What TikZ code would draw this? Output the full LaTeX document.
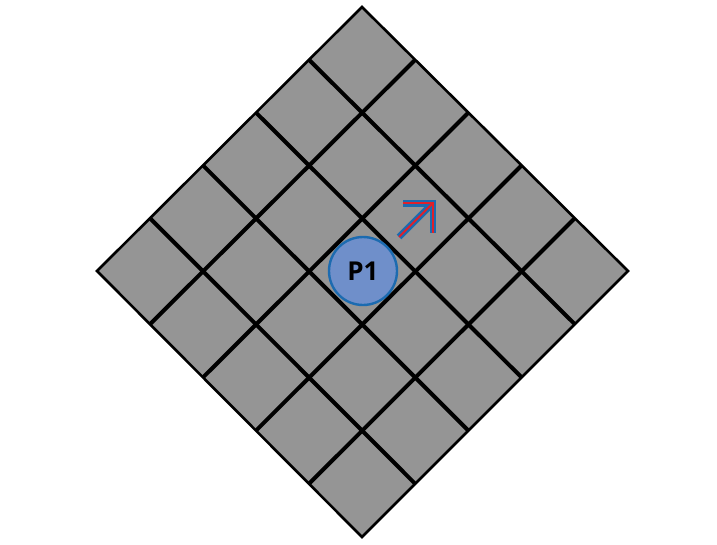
\documentclass[tikz,border=0pt]{standalone}
\usepackage{fontspec}
\setsansfont{Open Sans}
\usetikzlibrary{calc,arrows.meta}
\definecolor{cellgray}{HTML}{959595}
\definecolor{tokenfill}{HTML}{6F8FCA}
\definecolor{tokenline}{HTML}{1C6BB0}
\definecolor{arrowred}{HTML}{E0202A}
\tikzset{
  gridline/.style={line width=4pt, black},
  token/.style={circle, draw=tokenline, fill=tokenfill, line width=2.4pt,
    minimum size=68pt, inner sep=0pt, font=\sffamily\bfseries\fontsize{26}{30}\selectfont},
  moveouter/.style={line width=6.5pt, tokenline, -{Straight Barb[length=21pt, width=42pt, line width=6.5pt]}},
  moveinner/.style={line width=2pt, arrowred, -{Straight Barb[length=21pt, width=42pt, line width=2pt]}}
}
\begin{document}
\begin{tikzpicture}[x=1pt, y=-1pt]
    \useasboundingbox (0,0) rectangle (717,544);
    % Board corners
    \coordinate (T) at (362,7);
    \coordinate (L) at (97,271);
    \coordinate (R) at (628,271);
    \coordinate (B) at (362,537);

    % The board
    \fill[cellgray] (T) -- (R) -- (B) -- (L) -- cycle;
    \foreach \i in {1,...,4} {
        \draw[gridline] ($(T)!\i/5!(R)$) -- ($(L)!\i/5!(B)$);
        \draw[gridline] ($(T)!\i/5!(L)$) -- ($(R)!\i/5!(B)$);
    }
    \draw[line width=2.6pt, line join=miter] (T) -- (R) -- (B) -- (L) -- cycle;

    % Player token
    \node[token] (p1) at (363,271) {P1};

    % Move direction
    \coordinate (mvstart) at (399,237);
    \coordinate (mvend) at (436,200);
    \coordinate (mvend2) at (434,202);
    \draw[moveouter] (mvstart) -- (mvend);
    \draw[moveinner] (mvstart) -- (mvend2);
\end{tikzpicture}
\end{document}
